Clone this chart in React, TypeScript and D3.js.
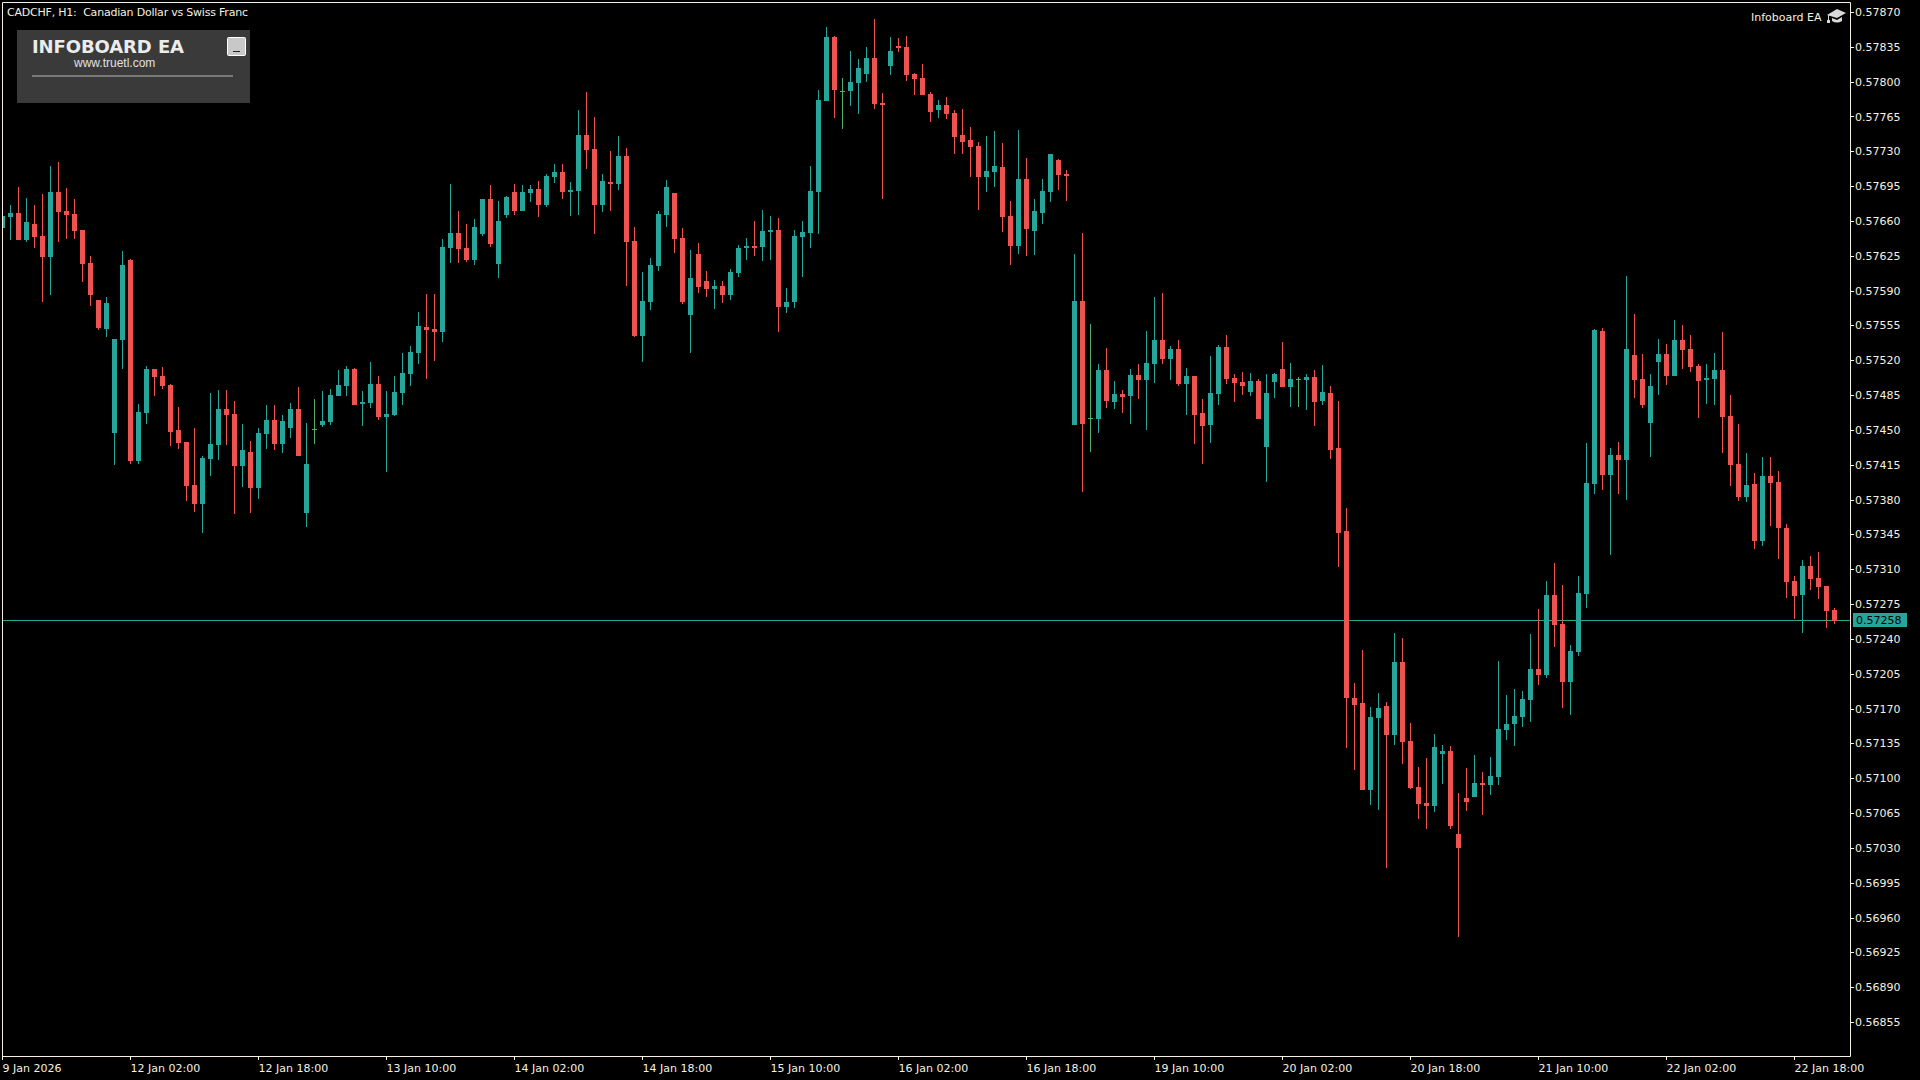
import { useEffect, useRef } from 'react';
import * as d3 from 'd3';

// prices in points (1 point = 0.00001), one entry per H1 bar
const opens = [
  57653, 57664, 57668, 57641, 57657, 57645, 57624, 57689, 57670, 57667,
  57651, 57618, 57581, 57551, 57447, 57540, 57621, 57419, 57467, 57511,
  57504, 57495, 57450, 57438, 57395, 57376, 57421, 57435, 57471, 57466,
  57414, 57428, 57392, 57446, 57460, 57436, 57452, 57471, 57367, 57451,
  57455, 57458, 57484, 57494, 57511, 57476, 57477, 57496, 57463, 57465,
  57487, 57506, 57527, 57553, 57551, 57548, 57633, 57648, 57633, 57621,
  57647, 57682, 57617, 57666, 57689, 57670, 57688, 57692, 57676, 57704,
  57709, 57689, 57690, 57746, 57732, 57676, 57699, 57697, 57725, 57640,
  57544, 57579, 57615, 57666, 57688, 57643, 57565, 57627, 57600, 57592,
  57595, 57586, 57608, 57633, 57635, 57634, 57649, 57651, 57574, 57579,
  57644, 57648, 57689, 57781, 57845, 57791, 57791, 57799, 57808, 57824,
  57779, 57816, 57836, 57835, 57808, 57804, 57788, 57772, 57777, 57768,
  57746, 57741, 57735, 57704, 57709, 57714, 57665, 57635, 57702, 57650,
  57668, 57689, 57721, 57707, 57455, 57580, 57462, 57461, 57510, 57478,
  57486, 57484, 57505, 57500, 57516, 57540, 57521, 57531, 57496, 57504,
  57467, 57455, 57486, 57533, 57502, 57498, 57488, 57499, 57433, 57498,
  57511, 57493, 57501, 57500, 57503, 57479, 57487, 57432, 57348, 57181,
  57176, 57088, 57161, 57173, 57143, 57217, 57137, 57091, 57075, 57072,
  57124, 57127, 57044, 57080, 57081, 57095, 57093, 57101, 57148, 57154,
  57162, 57179, 57210, 57204, 57284, 57255, 57197, 57227, 57285, 57396,
  57549, 57405, 57425, 57420, 57525, 57501, 57457, 57518, 57526, 57504,
  57540, 57531, 57514, 57500, 57501, 57510, 57464, 57416, 57383, 57396,
  57338, 57404, 57398, 57351, 57298, 57284, 57313, 57301, 57293, 57269,
];

const closes = [
  57665, 57668, 57641, 57659, 57644, 57624, 57689, 57669, 57666, 57650,
  57617, 57586, 57552, 57578, 57541, 57616, 57419, 57468, 57511, 57503,
  57494, 57448, 57437, 57394, 57376, 57422, 57436, 57471, 57465, 57414,
  57430, 57392, 57447, 57460, 57436, 57459, 57471, 57424, 57416, 57451,
  57459, 57485, 57495, 57511, 57475, 57478, 57496, 57463, 57466, 57488,
  57507, 57528, 57554, 57550, 57548, 57634, 57648, 57632, 57621, 57654,
  57682, 57637, 57660, 57684, 57670, 57689, 57692, 57676, 57705, 57709,
  57689, 57691, 57746, 57731, 57676, 57700, 57697, 57725, 57639, 57544,
  57580, 57616, 57667, 57694, 57642, 57579, 57603, 57594, 57592, 57595,
  57586, 57609, 57633, 57635, 57633, 57650, 57651, 57574, 57579, 57645,
  57649, 57690, 57782, 57845, 57792, 57791, 57800, 57814, 57824, 57778,
  57777, 57831, 57834, 57807, 57803, 57787, 57770, 57777, 57767, 57744,
  57739, 57734, 57704, 57710, 57715, 57664, 57635, 57702, 57652, 57670,
  57690, 57727, 57706, 57705, 57580, 57456, 57462, 57510, 57479, 57486,
  57483, 57505, 57500, 57517, 57540, 57521, 57531, 57496, 57504, 57465,
  57454, 57487, 57533, 57501, 57497, 57494, 57499, 57461, 57487, 57506,
  57493, 57501, 57501, 57503, 57478, 57488, 57430, 57346, 57181, 57174,
  57088, 57162, 57171, 57143, 57217, 57136, 57090, 57074, 57072, 57131,
  57127, 57052, 57030, 57076, 57095, 57093, 57102, 57149, 57154, 57163,
  57180, 57210, 57204, 57284, 57254, 57197, 57228, 57286, 57397, 57550,
  57405, 57425, 57420, 57531, 57500, 57475, 57494, 57526, 57504, 57540,
  57530, 57513, 57499, 57502, 57510, 57463, 57415, 57383, 57395, 57338,
  57404, 57397, 57351, 57297, 57283, 57313, 57300, 57292, 57268, 57258,
];

const highs = [
  57668, 57676, 57694, 57683, 57676, 57687, 57715, 57719, 57693, 57682,
  57651, 57625, 57581, 57584, 57541, 57630, 57622, 57476, 57514, 57511,
  57513, 57496, 57473, 57438, 57452, 57424, 57487, 57490, 57490, 57479,
  57456, 57439, 57452, 57475, 57475, 57465, 57477, 57493, 57457, 57481,
  57489, 57491, 57510, 57514, 57512, 57489, 57518, 57504, 57489, 57504,
  57527, 57534, 57569, 57587, 57587, 57642, 57697, 57670, 57657, 57662,
  57682, 57696, 57680, 57685, 57697, 57696, 57696, 57700, 57707, 57717,
  57717, 57699, 57772, 57790, 57764, 57707, 57730, 57745, 57733, 57654,
  57609, 57623, 57670, 57701, 57688, 57653, 57631, 57638, 57610, 57601,
  57600, 57612, 57636, 57643, 57660, 57671, 57665, 57663, 57593, 57651,
  57660, 57715, 57792, 57855, 57846, 57804, 57831, 57823, 57835, 57863,
  57789, 57845, 57844, 57846, 57809, 57818, 57790, 57782, 57785, 57772,
  57773, 57754, 57739, 57745, 57750, 57738, 57680, 57751, 57723, 57682,
  57702, 57727, 57722, 57711, 57627, 57648, 57556, 57516, 57532, 57499,
  57490, 57511, 57516, 57549, 57584, 57588, 57534, 57540, 57512, 57504,
  57481, 57524, 57535, 57545, 57506, 57508, 57507, 57501, 57506, 57507,
  57538, 57517, 57503, 57506, 57510, 57515, 57494, 57479, 57372, 57196,
  57229, 57172, 57186, 57177, 57246, 57241, 57155, 57111, 57120, 57144,
  57133, 57132, 57085, 57110, 57123, 57106, 57121, 57218, 57184, 57190,
  57188, 57245, 57270, 57298, 57316, 57294, 57234, 57303, 57437, 57551,
  57552, 57432, 57438, 57605, 57567, 57526, 57506, 57541, 57536, 57560,
  57555, 57545, 57516, 57516, 57527, 57548, 57485, 57456, 57427, 57407,
  57423, 57423, 57409, 57355, 57303, 57319, 57323, 57327, 57293, 57271,
];

const lows = [
  57650, 57641, 57641, 57639, 57633, 57579, 57586, 57639, 57642, 57642,
  57599, 57575, 57550, 57543, 57415, 57511, 57416, 57416, 57456, 57484,
  57491, 57434, 57431, 57379, 57368, 57346, 57404, 57420, 57435, 57366,
  57393, 57367, 57381, 57431, 57430, 57427, 57442, 57424, 57352, 57436,
  57453, 57455, 57484, 57484, 57475, 57454, 57472, 57460, 57408, 57464,
  57475, 57494, 57516, 57501, 57519, 57538, 57618, 57618, 57619, 57616,
  57645, 57634, 57603, 57663, 57666, 57670, 57679, 57664, 57674, 57698,
  57682, 57665, 57666, 57712, 57647, 57669, 57670, 57691, 57595, 57543,
  57518, 57571, 57610, 57654, 57628, 57577, 57527, 57588, 57584, 57572,
  57578, 57581, 57604, 57621, 57625, 57620, 57621, 57548, 57568, 57573,
  57604, 57633, 57647, 57781, 57763, 57752, 57776, 57767, 57800, 57773,
  57682, 57807, 57830, 57801, 57787, 57787, 57759, 57763, 57762, 57727,
  57727, 57704, 57671, 57689, 57694, 57649, 57616, 57627, 57625, 57626,
  57657, 57679, 57691, 57680, 57455, 57388, 57428, 57447, 57472, 57471,
  57467, 57456, 57481, 57450, 57497, 57516, 57500, 57494, 57465, 57436,
  57416, 57437, 57475, 57496, 57478, 57485, 57484, 57461, 57398, 57482,
  57493, 57473, 57473, 57470, 57454, 57475, 57421, 57312, 57130, 57108,
  57088, 57073, 57068, 57010, 57133, 57114, 57089, 57059, 57049, 57066,
  57094, 57049, 56940, 57067, 57081, 57063, 57083, 57093, 57138, 57132,
  57151, 57156, 57194, 57201, 57232, 57171, 57164, 57223, 57271, 57386,
  57390, 57324, 57386, 57380, 57482, 57472, 57423, 57485, 57495, 57504,
  57511, 57508, 57462, 57476, 57475, 57427, 57394, 57379, 57378, 57330,
  57333, 57353, 57320, 57281, 57260, 57246, 57289, 57280, 57251, 57255,
];

const priceTicks = [
  0.5787, 0.57835, 0.578, 0.57765, 0.5773, 0.57695, 0.5766, 0.57625, 0.5759, 0.57555,
  0.5752, 0.57485, 0.5745, 0.57415, 0.5738, 0.57345, 0.5731, 0.57275, 0.5724, 0.57205,
  0.5717, 0.57135, 0.571, 0.57065, 0.5703, 0.56995, 0.5696, 0.56925, 0.5689, 0.56855,
];

const timeLabels = [
  '9 Jan 2026', '12 Jan 02:00', '12 Jan 18:00', '13 Jan 10:00', '14 Jan 02:00',
  '14 Jan 18:00', '15 Jan 10:00', '16 Jan 02:00', '16 Jan 18:00', '19 Jan 10:00',
  '20 Jan 02:00', '20 Jan 18:00', '21 Jan 10:00', '22 Jan 02:00', '22 Jan 18:00',
];
const barsPerLabel = 16;
const lastPrice = 0.57258;

const BEIGE = '#f5f0e1';
const UP = '#26a69a';
const DOWN = '#ef5350';
const DOJI = '#4caf6a';
const AXIS_FONT = '"DejaVu Sans", sans-serif';

const App = () => {
  const svgRef = useRef<SVGSVGElement>(null);

  useEffect(() => {
    const svg = d3.select(svgRef.current);
    svg.selectAll('*').remove();

    const left = 2, top = 2, right = 1850, bottom = 1056;

    const x = d3.scaleLinear().domain([0, 229]).range([2, 1834]);
    const y = d3.scaleLinear().domain([0.5787, 0.56855]).range([12, 1022]);
    const py = (points: number) => Math.round(y(points / 100000));

    const bars = opens.map((o, i) => ({
      i, o, c: closes[i], h: highs[i], l: lows[i],
    }));
    const color = d => (d.c > d.o ? UP : d.c < d.o ? DOWN : DOJI);

    svg.append('defs').append('clipPath').attr('id', 'plot')
      .append('rect')
      .attr('x', left + 1).attr('y', top + 1)
      .attr('width', right - left - 1).attr('height', bottom - top - 1);

    // Current price line, sits behind the candles
    svg.append('rect')
      .attr('x', left).attr('y', Math.round(y(lastPrice)) - 1)
      .attr('width', right - left).attr('height', 1)
      .attr('fill', UP);

    const plot = svg.append('g').attr('clip-path', 'url(#plot)');

    // Wicks
    plot.selectAll('rect.wick').data(bars).join('rect')
      .attr('class', 'wick')
      .attr('x', d => x(d.i))
      .attr('y', d => py(d.h))
      .attr('width', 1)
      .attr('height', d => Math.max(1, py(d.l) - py(d.h)))
      .attr('fill', color);

    // Bodies
    plot.selectAll('rect.body').data(bars).join('rect')
      .attr('class', 'body')
      .attr('x', d => x(d.i) - 2)
      .attr('y', d => py(Math.max(d.o, d.c)))
      .attr('width', 5)
      .attr('height', d => Math.max(1, py(Math.min(d.o, d.c)) - py(Math.max(d.o, d.c))))
      .attr('fill', color);

    // Frame
    svg.append('path')
      .attr('d', `M${left + 0.5},${bottom + 4}V${top + 0.5}H${right + 0.5}V${bottom + 0.5}H${left + 0.5}`)
      .attr('fill', 'none')
      .attr('stroke', BEIGE);

    // Price axis
    const yAxis = svg.append('g')
      .attr('transform', `translate(${right},0)`)
      .call(d3.axisRight(y).tickValues(priceTicks).tickFormat(d3.format('.5f')).tickSize(4).tickPadding(1));
    yAxis.select('.domain').remove();
    yAxis.selectAll('line').attr('stroke', BEIGE).attr('shape-rendering', 'crispEdges');
    yAxis.selectAll('text')
      .attr('fill', BEIGE)
      .attr('font-family', AXIS_FONT)
      .attr('font-size', 11);

    // Time axis
    const labelBars = timeLabels.map((_, i) => i * barsPerLabel);
    const xAxis = svg.append('g')
      .attr('transform', `translate(0,${bottom})`)
      .call(d3.axisBottom(x).tickValues(labelBars).tickFormat((_, i) => timeLabels[i]).tickSize(4).tickPadding(4));
    xAxis.select('.domain').remove();
    xAxis.selectAll('line').attr('stroke', BEIGE).attr('shape-rendering', 'crispEdges');
    xAxis.selectAll('text')
      .attr('fill', BEIGE)
      .attr('font-family', AXIS_FONT)
      .attr('font-size', 11)
      .attr('text-anchor', 'start');

    // Last price tag
    svg.append('rect')
      .attr('x', 1853).attr('y', 613)
      .attr('width', 54).attr('height', 14)
      .attr('fill', UP);
    svg.append('text')
      .attr('x', 1856).attr('y', 624)
      .attr('font-family', AXIS_FONT).attr('font-size', 11)
      .attr('fill', '#000')
      .text(d3.format('.5f')(lastPrice));

    // Symbol caption
    svg.append('text')
      .attr('x', 7).attr('y', 16)
      .attr('font-family', AXIS_FONT).attr('font-size', 11)
      .attr('fill', BEIGE)
      .attr('xml:space', 'preserve')
      .attr('textLength', 241)
      .text('CADCHF, H1:  Canadian Dollar vs Swiss Franc');

    // Infoboard panel
    const panel = svg.append('g');
    panel.append('rect')
      .attr('x', 17).attr('y', 30).attr('width', 233).attr('height', 73)
      .attr('fill', '#3a3a3a');
    panel.append('text')
      .attr('x', 32).attr('y', 53)
      .attr('font-family', '"DejaVu Sans", sans-serif').attr('font-weight', 'bold').attr('font-size', 18)
      .attr('fill', '#ececec')
      .attr('textLength', 152)
      .text('INFOBOARD EA');
    panel.append('text')
      .attr('x', 74).attr('y', 67)
      .attr('font-family', '"Liberation Sans", sans-serif').attr('font-size', 12)
      .attr('fill', '#e0e0e0')
      .text('www.truetl.com');
    panel.append('rect')
      .attr('x', 32).attr('y', 75).attr('width', 201).attr('height', 2)
      .attr('fill', '#7a7a7a');
    panel.append('rect')
      .attr('x', 227.5).attr('y', 37.5).attr('width', 18).attr('height', 18).attr('rx', 1)
      .attr('fill', '#c8c8c8').attr('stroke', '#ffffff');
    panel.append('rect')
      .attr('x', 233).attr('y', 51).attr('width', 7).attr('height', 1)
      .attr('fill', '#222');

    // Expert badge, top right
    svg.append('text')
      .attr('x', 1751).attr('y', 21)
      .attr('font-family', AXIS_FONT).attr('font-size', 11)
      .attr('fill', BEIGE)
      .text('Infoboard EA');
    const cap = svg.append('g').attr('fill', '#d8d8d8');
    cap.append('path').attr('d', 'M1827,15L1837,9L1846,13L1837,18Z');
    cap.append('path').attr('d', 'M1832,18L1837,20L1842,17V21Q1837,24 1832,21Z');
    cap.append('rect').attr('x', 1828).attr('y', 15).attr('width', 1).attr('height', 6);
    cap.append('rect').attr('x', 1827).attr('y', 20).attr('width', 3).attr('height', 3);
  }, []);

  return (
    <svg
      ref={svgRef}
      width={1920}
      height={1080}
      style={{ position: 'fixed', left: 0, top: 0, background: '#000', display: 'block' }}
    />
  );
};

export default App;
